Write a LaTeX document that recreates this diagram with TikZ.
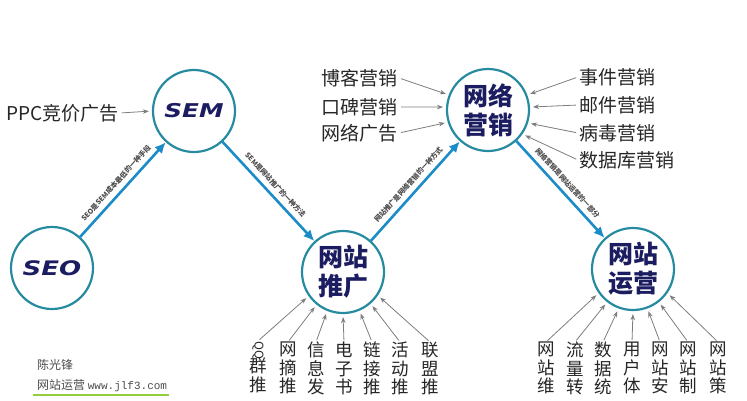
\documentclass[tikz,border=0pt]{standalone}
\usepackage{fontspec}
\usepackage{graphicx}
\usepackage{tikz}
\usetikzlibrary{positioning,arrows.meta}
\setmainfont{Noto Sans CJK SC}
\newfontfamily\cjk{Noto Sans CJK SC}
\newfontfamily\enfont{DejaVu Sans}[FakeStretch=1.3]
\newfontfamily\urlfont{Liberation Mono}
\definecolor{ringc}{RGB}{38,138,160}
\definecolor{flowc}{RGB}{28,140,200}
\definecolor{navy}{RGB}{28,28,96}
\definecolor{feedc}{RGB}{125,125,125}
\definecolor{markc}{RGB}{150,205,60}

\begin{document}
\begin{tikzpicture}[x=1pt,y=-1pt,
  hub/.style={circle, draw=ringc, line width=2.2pt, minimum size=82pt, inner sep=0pt,
    text=navy, font=\cjk\bfseries\fontsize{25}{29}\selectfont, align=center},
  flow/.style={draw=flowc, line width=2.6pt, -{Latex[length=11pt,width=10pt]}},
  feed/.style={draw=feedc, line width=0.8pt, -{Stealth[length=6pt,width=4.5pt]},
    shorten >=3pt, shorten <=2pt},
  side/.style={font=\cjk\fontsize{19}{20}\selectfont, inner sep=1pt, text=black!85},
  col/.style={font=\cjk\fontsize{17.5}{18.5}\selectfont, align=center, anchor=north,
    inner sep=0pt, text=black!85},
  note/.style={font=\cjk\bfseries\fontsize{7}{7}\selectfont, sloped, above=1.5pt, text=black!70}]
\useasboundingbox (0,0) rectangle (747,400);
\clip (0,0) rectangle (747,400);

% main chain
\node[hub] (seo) at (52,268) {\enfont\bfseries\itshape\fontsize{20}{20}\selectfont SEO};
\node[hub] (sem) at (194,111) {\enfont\bfseries\itshape\fontsize{19}{20}\selectfont SEM};
\node[hub] (tuiguang) at (343,272) {网站\\推广};
\node[hub] (yingxiao) at (488,110) {网络\\营销};
\node[hub] (yunying) at (633,269) {网站\\运营};

\draw[flow] (seo) -- node[note] {SEO是SEM成本最低的一种手段} (sem);
\draw[flow] (sem) -- node[note] {SEM是网站推广的一种方法} (tuiguang);
\draw[flow] (tuiguang) -- node[note] {网站推广是网络营销的一种方式} (yingxiao);
\draw[flow] (yingxiao) -- node[note] {网络营销是网站运营的一部分} (yunying);

% feeders
\node[side, anchor=east] (ppc) at (120,113) {PPC竞价广告};
\draw[feed] (ppc.east) -- (sem.west);

\node[side, anchor=east] (boke) at (399,78) {博客营销};
\node[side, anchor=east] (koubei) at (399,107) {口碑营销};
\node[side, anchor=east] (guanggao) at (399,133) {网络广告};
\draw[feed] (boke.east) -- (yingxiao.159);
\draw[feed] (koubei.east) -- (yingxiao.176);
\draw[feed] (guanggao.east) -- (yingxiao.197);

\node[side, anchor=west] (shijian) at (578,77) {事件营销};
\node[side, anchor=west] (youjian) at (578,105) {邮件营销};
\node[side, anchor=west] (bingdu) at (578,133) {病毒营销};
\node[side, anchor=west] (shujuku) at (578,160) {数据库营销};
\draw[feed] (shijian.west) -- (yingxiao.21);
\draw[feed] (youjian.west) -- (yingxiao.4);
\draw[feed] (bingdu.west) -- (yingxiao.-18);
\draw[feed] (shujuku.west) -- (yingxiao.-35);

% columns under tuiguang
\node[col] (qq) at (258,341) {\rotatebox[origin=c]{-90}{\fontsize{12}{12}\selectfont QQ}\\[-2pt]群\\推};
\node[col] (wangzhai) at (288,342) {网\\摘\\推};
\node[col] (xinxi) at (316,342) {信\\息\\发};
\node[col] (dianzi) at (344,342) {电\\子\\书};
\node[col] (lianjie) at (372,342) {链\\接\\推};
\node[col] (huodong) at (400,342) {活\\动\\推};
\node[col] (lianmeng) at (430,342) {联\\盟\\推};
\draw[feed] (qq.north) -- (tuiguang.215);
\draw[feed] (wangzhai.north) -- (tuiguang.231);
\draw[feed] (xinxi.north) -- (tuiguang.248);
\draw[feed] (dianzi.north) -- (tuiguang.270);
\draw[feed] (lianjie.north) -- (tuiguang.293);
\draw[feed] (huodong.north) -- (tuiguang.311);
\draw[feed] (lianmeng.north) -- (tuiguang.326);

% columns under yunying
\node[col] (weihu) at (546,342) {网\\站\\维};
\node[col] (liuliang) at (575,342) {流\\量\\转};
\node[col] (tongji) at (603,342) {数\\据\\统};
\node[col] (tiyan) at (632,342) {用\\户\\体};
\node[col] (anquan) at (660,342) {网\\站\\安};
\node[col] (zhizuo) at (688,342) {网\\站\\制};
\node[col] (cehua) at (718,342) {网\\站\\策};
\draw[feed] (weihu.north) -- (yunying.215);
\draw[feed] (liuliang.north) -- (yunying.232);
\draw[feed] (tongji.north) -- (yunying.250);
\draw[feed] (tiyan.north) -- (yunying.270);
\draw[feed] (anquan.north) -- (yunying.290);
\draw[feed] (zhizuo.north) -- (yunying.308);
\draw[feed] (cehua.north) -- (yunying.325);

% signature
\node[anchor=west, inner sep=0pt, text=black!70, font=\cjk\fontsize{12}{12}\selectfont]
  (author) at (37,365) {陈光锋};
\node[anchor=west, inner sep=0pt, text=black!70, font=\cjk\fontsize{12}{12}\selectfont]
  (site) at (37,386) {网站运营 {\urlfont\fontsize{11}{11}\selectfont www.jlf3.com}};
\draw[markc, line width=2pt] ([xshift=-4pt,yshift=-3pt]site.south west)
  -- ([xshift=2pt,yshift=-3pt]site.south east);
\end{tikzpicture}
\end{document}
